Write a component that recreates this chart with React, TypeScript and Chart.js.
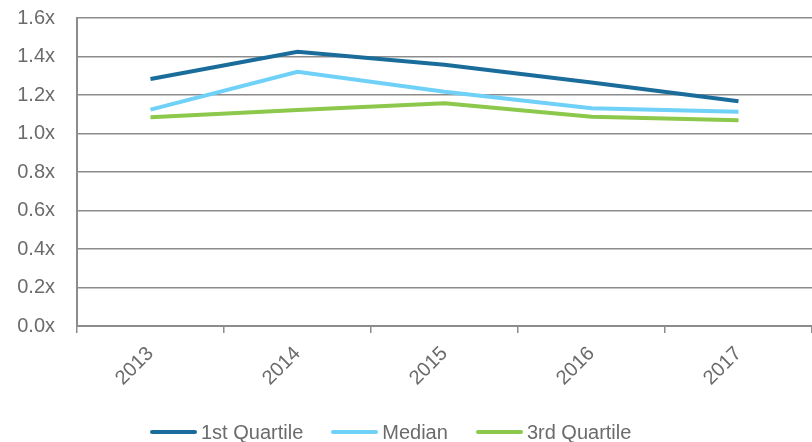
import React, { useEffect, useRef } from "react";
import { Chart, registerables } from "chart.js";

Chart.register(...registerables);

const years = ["2013", "2014", "2015", "2016", "2017"];
const firstQuartile = [1.283, 1.425, 1.357, 1.265, 1.167];
const median = [1.124, 1.321, 1.217, 1.131, 1.113];
const thirdQuartile = [1.084, 1.122, 1.157, 1.087, 1.069];
const yTicks = [0, 0.2, 0.4, 0.6, 0.8, 1.0, 1.2, 1.4, 1.6];

const seriesNames = ["1st Quartile", "Median", "3rd Quartile"];
const seriesColors = ["#1a6d9b", "#6fd0f8", "#8cc84b"];

const FONT = "'Liberation Sans', Arial, sans-serif";
const TEXT = "#6b6b6b";
const GRID = "#8c8c8c";

export default function App() {
  const ref = useRef<HTMLCanvasElement | null>(null);

  useEffect(() => {
    if (!ref.current) return;
    const values = [firstQuartile, median, thirdQuartile];
    const chart = new Chart(ref.current, {
      type: "line",
      data: {
        labels: years,
        datasets: seriesNames.map((label, i) => ({
          label,
          data: values[i],
          borderColor: seriesColors[i],
          backgroundColor: seriesColors[i],
          borderWidth: 4,
          pointRadius: 0,
          tension: 0,
          fill: false,
        })),
      },
      options: {
        animation: false,
        responsive: false,
        layout: { padding: { top: 18, right: 0, left: 0, bottom: 0 } },
        plugins: {
          tooltip: { enabled: false },
          legend: { display: false },
        },
        scales: {
          x: {
            offset: true,
            grid: {
              offset: true,
              drawOnChartArea: false,
              drawTicks: true,
              tickLength: 7,
              color: GRID,
              lineWidth: 1.5,
            },
            border: { color: GRID, width: 2 },
            ticks: {
              color: TEXT,
              font: { family: FONT, size: 20 },
              maxRotation: 45,
              minRotation: 45,
              padding: 9,
            },
            afterFit: (s: any) => {
              s.height = 116;
              s.paddingLeft = 0;
              s.paddingRight = 0;
              s.paddingTop = 0;
              s.paddingBottom = 0;
            },
          },
          y: {
            min: 0,
            max: 1.6,
            afterBuildTicks: (s: any) => {
              s.ticks = yTicks.map((v) => ({ value: v }));
            },
            grid: {
              drawTicks: false,
              color: GRID,
              lineWidth: 1.5,
            },
            border: { color: GRID, width: 2 },
            ticks: {
              color: TEXT,
              font: { family: FONT, size: 20 },
              padding: 22,
              callback: (v: any) => Number(v).toFixed(1) + "x",
            },
            afterFit: (s: any) => {
              s.width = 77;
              s.paddingTop = 0;
              s.paddingBottom = 0;
              s.paddingLeft = 0;
              s.paddingRight = 0;
            },
          },
        },
      },
    });
    return () => chart.destroy();
  }, []);

  return (
    <div style={{ position: "fixed", left: 0, top: 0, width: 812, height: 442, background: "#fff" }}>
      <canvas ref={ref} width={812} height={442} style={{ display: "block" }} />
      <div
        style={{
          position: "absolute",
          left: 150,
          top: 420,
          height: 24,
          display: "flex",
          alignItems: "center",
          fontFamily: FONT,
          fontSize: 20,
          color: TEXT,
          whiteSpace: "nowrap",
        }}
      >
        {seriesNames.map((name, i) => (
          <div key={name} style={{ display: "flex", alignItems: "center", marginRight: 28 }}>
            <span
              style={{
                display: "inline-block",
                width: 47,
                height: 4,
                borderRadius: 2,
                background: seriesColors[i],
                marginRight: 4,
              }}
            />
            <span>{name}</span>
          </div>
        ))}
      </div>
    </div>
  );
}
